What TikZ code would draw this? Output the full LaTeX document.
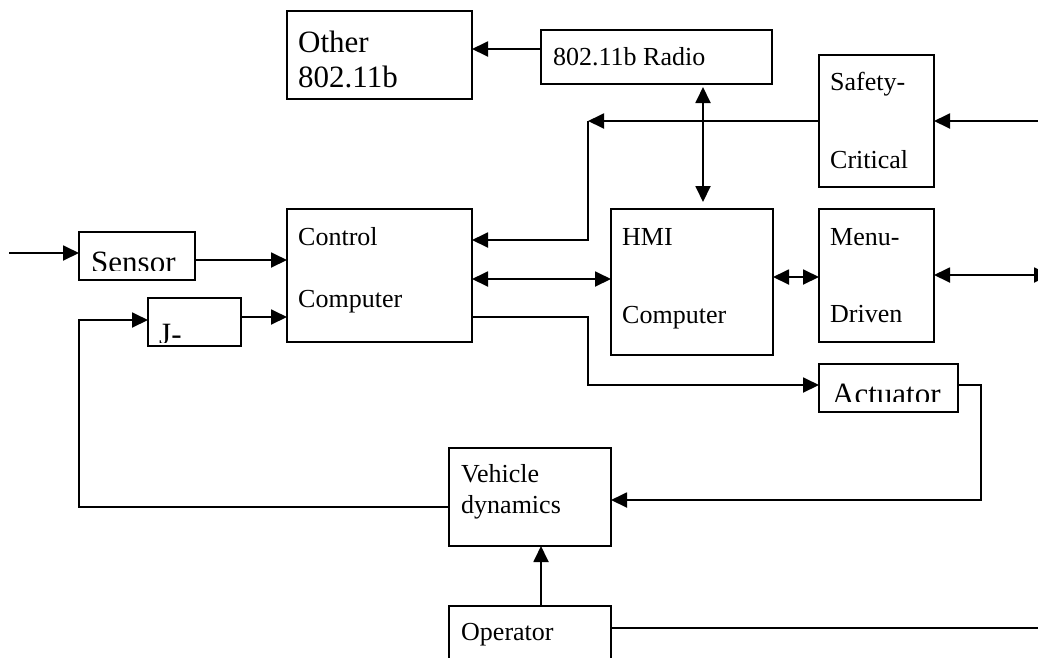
\documentclass[tikz,border=0pt]{standalone}
\usepackage{fontspec}
\setmainfont{Liberation Serif}
\usetikzlibrary{arrows.meta}

\tikzset{
  blk/.style={draw,line width=1.9pt,inner sep=0pt,outer sep=0pt,anchor=north west},
  lbl/.style={font=\fontsize{26}{30}\selectfont,inner sep=0pt,anchor=base west},
  biglbl/.style={font=\fontsize{31}{36}\selectfont,inner sep=0pt,anchor=base west},
  wire/.style={line width=1.9pt},
}

\begin{document}
\begin{tikzpicture}[x=1pt,y=-1pt,>={Triangle[length=16pt,width=15pt]}]
  \clip (0,0) rectangle (1038,657);
  % blocks, placed by their top left corner
  \node[blk,minimum width=185pt,minimum height=88pt] (other) at (287,11) {};
  \node[blk,minimum width=231pt,minimum height=54pt] (radio) at (541,30) {};
  \node[blk,minimum width=115pt,minimum height=132pt] (safety) at (819,55) {};
  \node[blk,minimum width=185pt,minimum height=133pt] (ctrl) at (287,209) {};
  \node[blk,minimum width=162pt,minimum height=146pt] (hmi) at (611,209) {};
  \node[blk,minimum width=115pt,minimum height=133pt] (menu) at (819,209) {};
  \node[blk,minimum width=116pt,minimum height=48pt] (sensor) at (79,232) {};
  \node[blk,minimum width=93pt,minimum height=48pt] (jbox) at (148,298) {};
  \node[blk,minimum width=139pt,minimum height=48pt] (act) at (819,364) {};
  \node[blk,minimum width=162pt,minimum height=98pt] (veh) at (449,448) {};
  \node[blk,minimum width=162pt,minimum height=94pt] (oper) at (449,606) {};

  % texts
  \node[biglbl] (other-a) at (298,52) {Other};
  \node[biglbl] (other-b) at (298,87) {802.11b};
  \node[lbl] (radio-a) at (553,65) {802.11b Radio};
  \node[lbl] (safety-a) at (830,90) {Safety-};
  \node[lbl] (safety-b) at (830,168) {Critical};
  \node[lbl] (ctrl-a) at (298,245) {Control};
  \node[lbl] (ctrl-b) at (298,307) {Computer};
  \node[lbl] (hmi-a) at (622,245) {HMI};
  \node[lbl] (hmi-b) at (622,323) {Computer};
  \node[lbl] (menu-a) at (830,245) {Menu-};
  \node[lbl] (menu-b) at (830,322) {Driven};
  \node[lbl] (veh-a) at (461,482) {Vehicle};
  \node[lbl] (veh-b) at (461,513) {dynamics};
  \node[lbl] (oper-a) at (461,640) {Operator};
  % these three are cut off at the bottom of their text frame
  \begin{scope}
    \clip (sensor.north west) rectangle (195,270);
    \node[biglbl] (sensor-a) at (91,272) {Sensor};
  \end{scope}
  \begin{scope}
    \clip (jbox.north west) rectangle (241,342);
    \node[biglbl] (jbox-a) at (159,344) {J-};
  \end{scope}
  \begin{scope}
    \clip (act.north west) rectangle (958,401);
    \node[biglbl] (act-a) at (832,404) {Actuator};
  \end{scope}

  % signal lines
  \coordinate (src) at (9,253);
  \coordinate (bend) at (588,121);
  \draw[wire,->] (src) -- (sensor.west |- src);
  \draw[wire,->] (sensor.east |- 0,260) -- (ctrl.west |- 0,260);
  \draw[wire,->] (jbox.east |- 0,317) -- (ctrl.west |- 0,317);
  \draw[wire,->] (veh.west |- 0,507) -| (sensor.west |- 0,320) -- (jbox.west |- 0,320);
  \draw[wire,->] (radio.west |- 0,49) -- (other.east |- 0,49);
  \draw[wire,<->,shorten <=3pt,shorten >=7pt] (radio.south -| 703,0) -- (hmi.north -| 703,0);
  \draw[wire,->] (safety.west |- bend) -- (bend);
  \draw[wire,->] (bend) |- (ctrl.east |- 0,240);
  \draw[wire,->] (1040,121) -- (safety.east |- bend);
  \draw[wire,<->] (ctrl.east |- 0,279) -- (hmi.west |- 0,279);
  \draw[wire,<->] (hmi.east |- 0,277) -- (menu.west |- 0,277);
  \draw[wire,<->] (menu.east |- 0,275) -- (1050,275);
  \draw[wire,->] (ctrl.east |- 0,317) -| (bend |- 0,385) -- (act.west |- 0,385);
  \draw[wire,->] (act.east |- 0,385) -| (981,500) -- (veh.east |- 0,500);
  \draw[wire,->] (oper.north -| 541,0) -- (veh.south -| 541,0);
  \draw[wire] (oper.east |- 0,628) -- (1040,628);
\end{tikzpicture}
\end{document}
